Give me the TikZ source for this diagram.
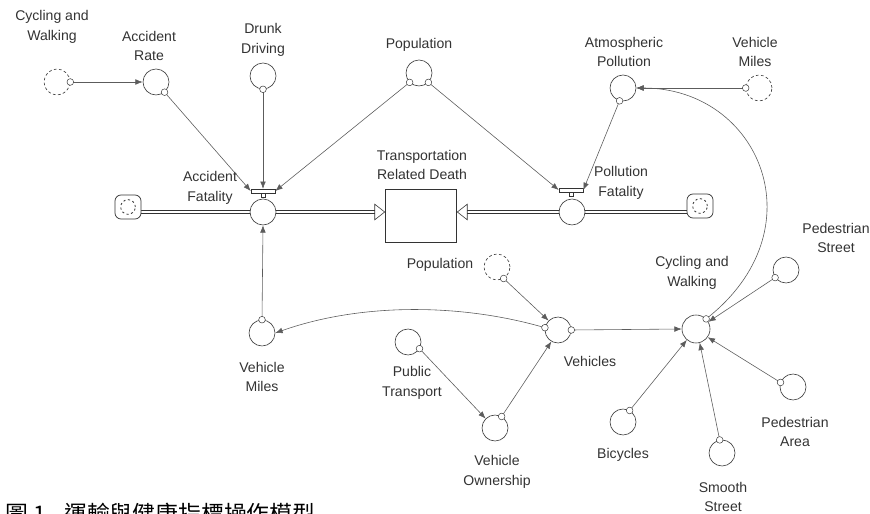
\documentclass[tikz,border=0pt]{standalone}
\usepackage{fontspec}
\setmainfont{Liberation Sans}
\newfontfamily\cjkfont{Noto Sans CJK TC}
\usetikzlibrary{arrows.meta,backgrounds}
\definecolor{ink}{HTML}{333333}
\definecolor{linie}{HTML}{5C5C5C}
\tikzset{
  aux/.style={circle,draw=ink,fill=white,line width=0.5pt,minimum size=0.78cm,inner sep=0pt},
  ghost/.style={aux,dash pattern=on 2.4pt off 2pt},
  tap/.style={circle,draw=ink,fill=white,line width=0.4pt,minimum size=0.2cm,inner sep=0pt},
  link/.style={-{Latex[length=2.2mm,width=1.7mm]},linie,line width=0.5pt},
  pipe/.style={-{Triangle[open,length=3.2mm,width=5mm]},ink,line width=0.5pt,double,double distance=0.7mm},
  stock/.style={rectangle,draw=ink,fill=white,line width=0.6pt,minimum width=2.13cm,minimum height=1.59cm},
  cloud/.style={rectangle,rounded corners=1.8mm,draw=ink,fill=white,line width=0.6pt,
    minimum width=0.78cm,minimum height=0.72cm,
    path picture={\draw[ink,dash pattern=on 1.8pt off 2.2pt,line width=0.7pt]
      (path picture bounding box.center) circle (0.22cm);}},
  valve/.style={rectangle,draw=ink,fill=white,line width=0.5pt,minimum width=0.72cm,minimum height=0.11cm,inner sep=0pt},
  stem/.style={rectangle,draw=ink,fill=white,line width=0.5pt,minimum size=0.13cm,inner sep=0pt},
  lbl/.style={align=center,text=ink,font=\fontsize{12}{17}\selectfont,inner sep=0pt},
  caption/.style={text=black,font=\cjkfont\fontsize{19.5}{21}\selectfont,inner sep=0pt},
}
\begin{document}
\begin{tikzpicture}[x=0.03cm,y=-0.03cm]
  \clip (0,0) rectangle (870,514);
  \node[ghost] (cwA) at (57,82) {};
  \node[aux] (ar) at (156,82) {};
  \node[aux] (dd) at (263,76) {};
  \node[aux] (pt) at (419,73) {};
  \node[aux] (ap) at (623,88) {};
  \node[ghost] (vmA) at (759,88) {};
  \node[cloud] (cL) at (128,207) {};
  \node[aux] (af) at (263,212) {};
  \node[valve] (afv) at (263,191) {};
  \node[stem] (afs) at (263,195.5) {};
  \node[stock] (st) at (421,216) {};
  \node[aux] (pf) at (572,212) {};
  \node[valve] (pfv) at (571,190) {};
  \node[stem] (pfs) at (571,194.5) {};
  \node[cloud] (cR) at (700,206) {};
  \node[aux] (vmB) at (262,333) {};
  \node[aux] (ptr) at (408,342) {};
  \node[aux] (vo) at (495,428) {};
  \node[ghost] (pg) at (497,267) {};
  \node[aux] (vh) at (558,330) {};
  \node[aux,minimum size=0.84cm] (cwB) at (696,329) {};
  \node[aux] (ps) at (786,270) {};
  \node[aux] (pa) at (793,387) {};
  \node[aux] (ss) at (722,453) {};
  \node[aux] (bc) at (623,422) {};
  \begin{scope}[on background layer]
    \draw[pipe] (cL.east |- af) -- (st.west |- af);
    \draw[pipe] (cR.west |- pf) -- (st.east |- pf);
  \end{scope}
  \draw[link] (cwA.east) node[tap]{} -- (ar.west);
  \draw[link] (ar.-50) node[tap]{} -- (afv.west);
  \draw[link] (dd.south) node[tap]{} -- (afv.north);
  \draw[link] (pt.225) node[tap]{} -- (afv.east);
  \draw[link] (vmB.north) node[tap]{} -- (af.south);
  \draw[link] (pt.315) node[tap]{} -- (pfv.west);
  \draw[link] (ap.255) node[tap]{} -- (pfv.east);
  \draw[link] (vmA.west) node[tap]{} -- (ap.east);
  \draw[link] (cwB.45) node[tap]{} .. controls (820,230) and (760,88) .. (ap.east);
  \draw[link] (ps.215) node[tap]{} -- (cwB.30);
  \draw[link] (pa.160) node[tap]{} -- (cwB.-35);
  \draw[link] (ss.100) node[tap]{} -- (cwB.-75);
  \draw[link] (bc.60) node[tap]{} -- (cwB.-130);
  \draw[link] (vh.east) node[tap]{} -- (cwB.west);
  \draw[link] (pg.-60) node[tap]{} -- (vh.135);
  \draw[link] (ptr.-30) node[tap]{} -- (vo.135);
  \draw[link] (vo.60) node[tap]{} -- (vh.-120);
  \draw[link] (vh.170) node[tap]{} .. controls (460,303) and (360,303) .. (vmB.east);
  \node[lbl] (cwAl) at (52,27) {Cycling and\\Walking};
  \node[lbl] (arl) at (149,46) {Accident\\Rate};
  \node[lbl] (ddl) at (263,40) {Drunk\\Driving};
  \node[lbl] (ptl) at (419,45) {Population};
  \node[lbl] (apl) at (624,52) {Atmospheric\\Pollution};
  \node[lbl] (vmAl) at (755,52) {Vehicle\\Miles};
  \node[lbl] (afl) at (210,188) {Accident\\Fatality};
  \node[lbl] (stl) at (422,165) {Transportation\\Related Death};
  \node[lbl] (pfl) at (621,183) {Pollution\\Fatality};
  \node[lbl] (psl) at (836,238) {Pedestrian\\Street};
  \node[lbl] (cwBl) at (692,273) {Cycling and\\Walking};
  \node[lbl] (pgl) at (440,265) {Population};
  \node[lbl] (vhl) at (590,361) {Vehicles};
  \node[lbl] (vmBl) at (262,377) {Vehicle\\Miles};
  \node[lbl] (ptrl) at (412,383) {Public\\Transport};
  \node[lbl] (vol) at (497,472) {Vehicle\\Ownership};
  \node[lbl] (pal) at (795,432) {Pedestrian\\Area};
  \node[lbl] (bcl) at (623,455) {Bicycles};
  \node[lbl] (ssl) at (723,497) {Smooth\\Street};
  \node[caption,anchor=north west] (cap) at (5,503) {圖 1\hspace{0.55cm}運輸與健康指標操作模型};
\end{tikzpicture}
\end{document}
